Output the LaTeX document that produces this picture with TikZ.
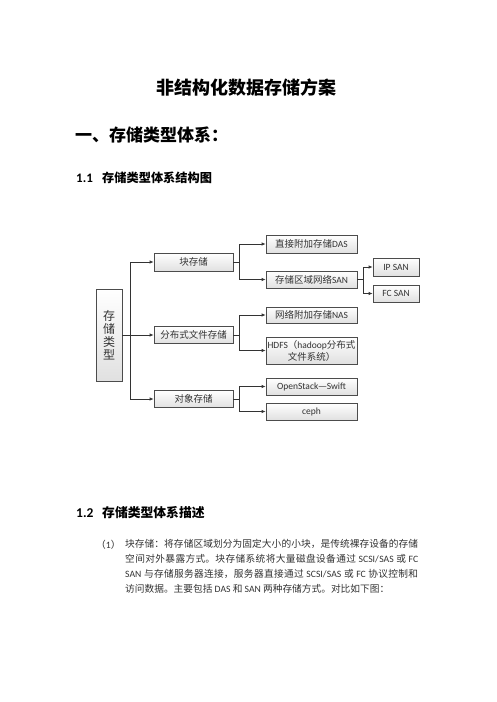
\documentclass[tikz,border=0pt]{standalone}
\usepackage{fontspec}
\setmainfont{Carlito}
\newfontfamily\cjk{Noto Sans CJK SC}
\usetikzlibrary{arrows.meta}
\newcommand\C[1]{{\cjk #1}}
\begin{document}
\begin{tikzpicture}[x=1pt,y=-1pt,
  box/.style={draw=black!70, line width=0.7pt, top color=white, bottom color=black!12,
    minimum width=91pt, inner sep=0pt, text=black!80,
    font=\fontsize{9.5}{12}\selectfont, align=center},
  arr/.style={draw=black!80, line width=0.7pt, -{Latex[length=4pt,width=3.5pt]}},
  txt/.style={inner sep=0pt, anchor=west, text=black}]
\useasboundingbox[fill=white] (0,0) rectangle (496,702);

% headings
\node[txt, font={\cjk\bfseries\fontsize{18}{20}\selectfont}] (title) at (156,88) {非结构化数据存储方案};
\node[txt, font={\cjk\bfseries\fontsize{17}{19}\selectfont}] (h1) at (75,135) {一、存储类型体系：};
\node[txt, font={\bfseries\fontsize{13}{14}\selectfont}] (h11n) at (76,178) {1.1};
\node[txt, font={\cjk\bfseries\fontsize{12.2}{14}\selectfont}] (h11) at (102,178) {存储类型体系结构图};
\node[txt, font={\bfseries\fontsize{13.5}{14}\selectfont}] (h12n) at (76,513) {1.2};
\node[txt, font={\cjk\bfseries\fontsize{12.8}{14}\selectfont}] (h12) at (102,513) {存储类型体系描述};

% diagram
\node[box, minimum width=26pt, minimum height=92pt, font={\cjk\fontsize{12}{13}\selectfont}] (root) at (109,335) {存\\储\\类\\型};
\node[box, minimum width=79pt, minimum height=18pt] (blk) at (193.5,262) {\C{块存储}};
\node[box, minimum width=79pt, minimum height=17pt] (dist) at (193.5,335) {\C{分布式文件存储}};
\node[box, minimum width=79pt, minimum height=17pt] (obj) at (193.5,399) {\C{对象存储}};
\node[box, minimum height=18pt] (das) at (311.5,244) {\C{直接附加存储}DAS};
\node[box, minimum height=17pt] (san) at (311.5,279.5) {\C{存储区域网络}SAN};
\node[box, minimum width=46pt, minimum height=18pt] (ipsan) at (396,267) {IP SAN};
\node[box, minimum width=46pt, minimum height=17pt] (fcsan) at (396,293.5) {FC SAN};
\node[box, minimum height=16pt] (nas) at (311.5,315) {\C{网络附加存储}NAS};
\node[box, minimum height=27pt] (hdfs) at (311.5,350.5) {HDFS\C{（}hadoop\C{分布式}\\\C{文件系统）}};
\node[box, minimum height=17pt] (osw) at (311.5,386.5) {OpenStack\C{—}Swift};
\node[box, minimum height=17pt] (ceph) at (311.5,411.5) {ceph};

\draw[arr] (root.east) -- (dist.west);
\draw[arr] (root.east) -- ++(7.5,0) |- (blk.west);
\draw[arr] (root.east) -- ++(7.5,0) |- (obj.west);
\draw[arr] (blk.east) -- ++(6,0) |- (das.west);
\draw[arr] (blk.east) -- ++(6,0) |- (san.west);
\draw[arr] (dist.east) -- ++(6,0) |- (nas.west);
\draw[arr] (dist.east) -- ++(6,0) |- (hdfs.west);
\draw[arr] (obj.east) -- ++(6,0) |- (osw.west);
\draw[arr] (obj.east) -- ++(6,0) |- (ceph.west);
\draw[arr] (san.east) -- ++(6,0) |- (ipsan.west);
\draw[arr] (san.east) -- ++(6,0) |- (fcsan.west);

% paragraph
\node[txt, text=black!80, font=\fontsize{9.7}{15}\selectfont] (pnum) at (96,545) {\C{（}1\C{）}};
\node[inner sep=0pt, anchor=north west, text width=293pt, align=justify, text=black!80,
  font=\fontsize{9.7}{15}\selectfont] (para) at (125,539)
{\XeTeXlinebreaklocale "zh"\XeTeXlinebreakskip=0pt plus 1pt\relax
\C{块存储：将存储区域划分为固定大小的小块，是传统裸存设备的存储}\linebreak
\C{空间对外暴露方式。块存储系统将大量磁盘设备通过} SCSI/SAS \C{或} FC\linebreak
SAN \C{与存储服务器连接，服务器直接通过} SCSI/SAS \C{或} FC \C{协议控制和}\linebreak
\C{访问数据。主要包括} DAS \C{和} SAN \C{两种存储方式。对比如下图：}};
\end{tikzpicture}
\end{document}
